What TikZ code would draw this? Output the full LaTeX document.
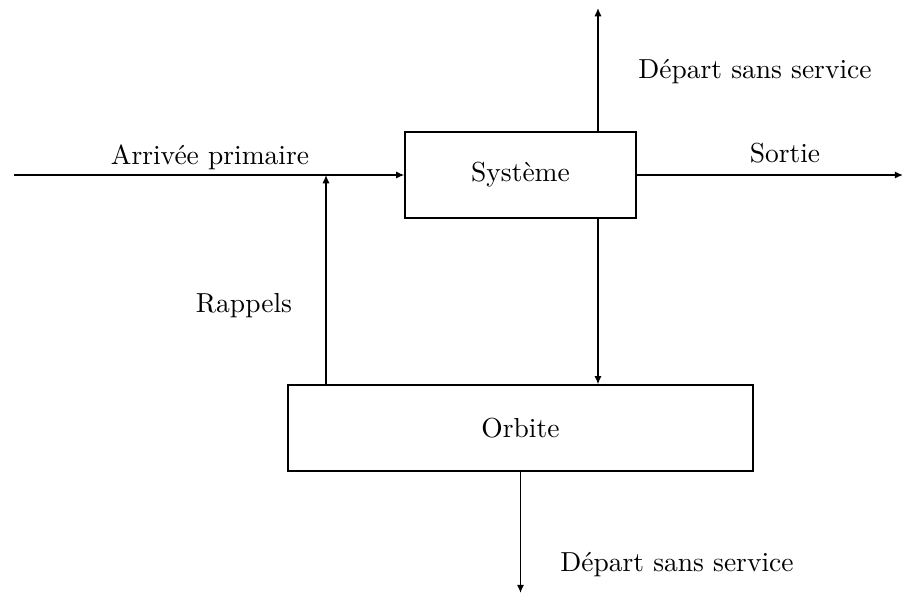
\documentclass[tikz,border=0pt]{standalone}
\usetikzlibrary{arrows.meta}
\begin{document}
\begin{tikzpicture}[x=0.3636pt,y=-0.3636pt,
  box/.style={draw,line width=0.5pt,minimum height=31.3pt,inner sep=0pt},
  conn/.style={line width=0.5pt,-{Latex[length=3pt,width=2.6pt]}},
  lbl/.style={inner sep=0pt}]
\useasboundingbox (0,0) rectangle (908,600);
\node[box,minimum width=84pt] (sys) at (520.5,175) {Système};
\node[box,minimum width=169pt] (orb) at (520.5,428) {Orbite};
\coordinate (in) at (14,175);
\coordinate (out) at (903,175);
\coordinate (top) at (598,8);
\coordinate (bot) at (520.5,593);
\coordinate (rap) at (326,175);
\draw[conn] (in) -- (sys.west);
\draw[conn] (sys.east) -- (out);
\draw[conn] (sys.north -| top) -- (top);
\draw[conn] (sys.south -| top) -- (orb.north -| top);
\draw[conn] (orb.north -| rap) -- (rap);
\draw[conn] (orb.south) -- (bot);
\node[lbl] (l1) at (755,72) {Départ sans service};
\node[lbl] (l2) at (210,157) {Arrivée primaire};
\node[lbl] (l3) at (785,153) {Sortie};
\node[lbl] (l4) at (244,306) {Rappels};
\node[lbl] (l5) at (677,565) {Départ sans service};
\end{tikzpicture}
\end{document}
